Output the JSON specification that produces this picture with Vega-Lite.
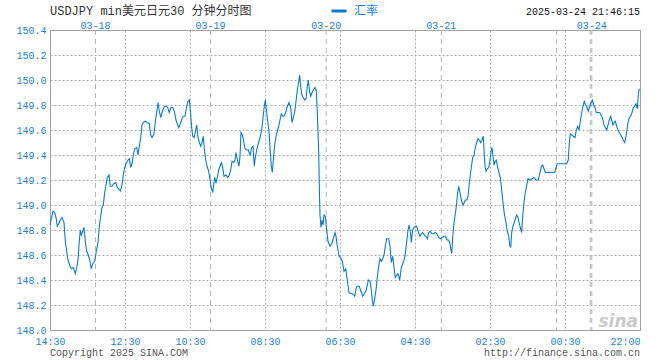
{
  "$schema": "https://vega.github.io/schema/vega-lite/v6.json",
  "width": 590,
  "height": 300,
  "autosize": {"type": "none"},
  "padding": {"left": 50, "top": 30, "right": 20, "bottom": 30},
  "background": "white",
  "config": {
    "view": {"stroke": "#999999", "strokeWidth": 1},
    "font": "Liberation Mono",
    "axis": {
      "title": null,
      "labelOverlap": false,
      "labelFlush": false,
      "labelColor": "#1a7fd4",
      "labelFont": "Liberation Mono",
      "labelFontSize": 10,
      "ticks": false,
      "tickSize": 0,
      "domain": false,
      "grid": true,
      "gridColor": "#aaaaaa",
      "gridDash": [2, 2],
      "gridWidth": 1
    },
    "axisX": {"labelPadding": 6},
    "axisY": {"labelPadding": 4}
  },
  "datasets": {
    "px": [
      {"t":0,"p":148.84},{"t":1.3,"p":148.89},{"t":3,"p":148.95},{"t":4.7,"p":148.94},{"t":6.3,"p":148.89},{"t":7.3,"p":148.83},{"t":8.7,"p":148.85},{"t":10.3,"p":148.88},{"t":12,"p":148.90},{"t":14,"p":148.86},
      {"t":15.3,"p":148.71},{"t":16.7,"p":148.63},{"t":18,"p":148.56},{"t":20,"p":148.51},{"t":21.3,"p":148.49},{"t":23.3,"p":148.50},{"t":25.3,"p":148.45},{"t":26.7,"p":148.50},{"t":28,"p":148.56},{"t":29.3,"p":148.71},
      {"t":30.3,"p":148.80},{"t":31.3,"p":148.76},{"t":32.7,"p":148.79},{"t":34,"p":148.82},{"t":35.3,"p":148.71},{"t":36.7,"p":148.63},{"t":38.3,"p":148.60},{"t":40,"p":148.55},{"t":41.3,"p":148.49},{"t":42.7,"p":148.53},
      {"t":44.7,"p":148.55},{"t":46.3,"p":148.63},{"t":48,"p":148.70},{"t":49.3,"p":148.83},{"t":50.7,"p":148.91},{"t":52,"p":148.98},{"t":53.3,"p":149.00},{"t":54.7,"p":149.10},{"t":56,"p":149.16},{"t":57.3,"p":149.22},
      {"t":59,"p":149.24},{"t":60.3,"p":149.15},{"t":62,"p":149.15},{"t":63.7,"p":149.17},{"t":65.7,"p":149.18},{"t":67.3,"p":149.14},{"t":68.7,"p":149.13},{"t":70.3,"p":149.11},{"t":72,"p":149.16},{"t":73.3,"p":149.24},
      {"t":74.7,"p":149.30},{"t":76,"p":149.33},{"t":78,"p":149.36},{"t":79.3,"p":149.37},{"t":80.7,"p":149.30},{"t":82,"p":149.33},{"t":83.3,"p":149.40},{"t":84.7,"p":149.45},{"t":86.7,"p":149.46},{"t":88,"p":149.40},
      {"t":89.3,"p":149.47},{"t":90.7,"p":149.54},{"t":92,"p":149.64},{"t":93.3,"p":149.66},{"t":95.3,"p":149.67},{"t":97.3,"p":149.66},{"t":99.3,"p":149.65},{"t":100.7,"p":149.56},{"t":102,"p":149.54},{"t":104,"p":149.57},
      {"t":105.3,"p":149.67},{"t":106.7,"p":149.74},{"t":108,"p":149.82},{"t":109.3,"p":149.75},{"t":110.7,"p":149.70},{"t":112,"p":149.74},{"t":113.3,"p":149.77},{"t":114.7,"p":149.79},{"t":116.3,"p":149.79},{"t":117.7,"p":149.78},
      {"t":119.3,"p":149.74},{"t":121,"p":149.78},{"t":122.7,"p":149.78},{"t":124.3,"p":149.75},{"t":126,"p":149.68},{"t":127.7,"p":149.64},{"t":128.7,"p":149.62},{"t":130.3,"p":149.65},{"t":132,"p":149.69},{"t":133.3,"p":149.71},
      {"t":135,"p":149.71},{"t":136.7,"p":149.79},{"t":138,"p":149.83},{"t":139.3,"p":149.84},{"t":140.3,"p":149.76},{"t":141.7,"p":149.62},{"t":142.7,"p":149.55},{"t":144.3,"p":149.54},{"t":145.7,"p":149.60},{"t":146.7,"p":149.64},
      {"t":148,"p":149.54},{"t":149.3,"p":149.50},{"t":150.7,"p":149.47},{"t":152,"p":149.50},{"t":153.3,"p":149.55},{"t":154.3,"p":149.45},{"t":155.7,"p":149.36},{"t":157,"p":149.31},{"t":158.7,"p":149.27},{"t":160,"p":149.20},
      {"t":161.3,"p":149.14},{"t":162.7,"p":149.10},{"t":163.7,"p":149.16},{"t":164.7,"p":149.22},{"t":166,"p":149.18},{"t":167.3,"p":149.22},{"t":168.7,"p":149.28},{"t":170,"p":149.31},{"t":171.3,"p":149.34},{"t":172.7,"p":149.30},
      {"t":174,"p":149.23},{"t":176,"p":149.24},{"t":177.7,"p":149.22},{"t":179.3,"p":149.24},{"t":180.7,"p":149.28},{"t":182,"p":149.35},{"t":183.7,"p":149.34},{"t":185,"p":149.36},{"t":186,"p":149.42},{"t":187.7,"p":149.35},
      {"t":189,"p":149.31},{"t":190,"p":149.39},{"t":191,"p":149.58},{"t":192.3,"p":149.56},{"t":193.7,"p":149.51},{"t":195,"p":149.45},{"t":196.7,"p":149.44},{"t":198.3,"p":149.44},{"t":200,"p":149.40},{"t":201.7,"p":149.46},
      {"t":203,"p":149.47},{"t":204.3,"p":149.31},{"t":205.3,"p":149.38},{"t":206.7,"p":149.44},{"t":208,"p":149.48},{"t":209.3,"p":149.52},{"t":210.7,"p":149.56},{"t":212,"p":149.62},{"t":213,"p":149.70},{"t":214.3,"p":149.79},
      {"t":215.3,"p":149.84},{"t":216.3,"p":149.77},{"t":217.7,"p":149.67},{"t":219,"p":149.59},{"t":220,"p":149.46},{"t":221.3,"p":149.31},{"t":222.3,"p":149.26},{"t":223.3,"p":149.36},{"t":224.7,"p":149.48},{"t":226,"p":149.55},
      {"t":227.3,"p":149.59},{"t":228.7,"p":149.63},{"t":230,"p":149.68},{"t":231.3,"p":149.73},{"t":232.7,"p":149.71},{"t":234,"p":149.71},{"t":235.7,"p":149.74},{"t":237.3,"p":149.79},{"t":239,"p":149.82},{"t":240.7,"p":149.78},
      {"t":242,"p":149.66},{"t":243.3,"p":149.70},{"t":245,"p":149.76},{"t":246.3,"p":149.85},{"t":247.3,"p":149.92},{"t":248.7,"p":149.99},{"t":249.7,"p":150.04},{"t":250.7,"p":149.94},{"t":252,"p":149.88},{"t":253.3,"p":149.86},
      {"t":254.7,"p":149.84},{"t":256,"p":149.85},{"t":257.3,"p":149.95},{"t":258.3,"p":150.00},{"t":259.7,"p":149.90},{"t":260.7,"p":149.87},{"t":262,"p":149.90},{"t":263.3,"p":149.92},{"t":265,"p":149.94},{"t":266.3,"p":149.91},
      {"t":267.3,"p":149.74},{"t":268.7,"p":149.43},{"t":269.3,"p":149.15},{"t":270,"p":148.92},{"t":271,"p":148.82},{"t":272,"p":148.88},{"t":273,"p":148.84},{"t":274,"p":148.92},{"t":275.3,"p":148.91},{"t":276.7,"p":148.80},
      {"t":278,"p":148.71},{"t":280,"p":148.67},{"t":281.7,"p":148.69},{"t":283.3,"p":148.73},{"t":285,"p":148.78},{"t":286,"p":148.75},{"t":287.3,"p":148.67},{"t":289,"p":148.59},{"t":290.7,"p":148.58},{"t":292.3,"p":148.55},
      {"t":294,"p":148.47},{"t":295.7,"p":148.49},{"t":297.3,"p":148.40},{"t":299,"p":148.30},{"t":300.7,"p":148.29},{"t":302.7,"p":148.29},{"t":304.7,"p":148.27},{"t":306.3,"p":148.34},{"t":307.3,"p":148.35},{"t":309.3,"p":148.35},
      {"t":311,"p":148.31},{"t":312.7,"p":148.27},{"t":314.3,"p":148.29},{"t":316.3,"p":148.32},{"t":318.3,"p":148.40},{"t":320,"p":148.39},{"t":321.3,"p":148.32},{"t":322.3,"p":148.24},{"t":323.3,"p":148.19},{"t":324.7,"p":148.25},
      {"t":326,"p":148.32},{"t":327.3,"p":148.42},{"t":328.7,"p":148.51},{"t":330,"p":148.57},{"t":331.3,"p":148.55},{"t":332.7,"p":148.57},{"t":334,"p":148.60},{"t":335.3,"p":148.67},{"t":336.7,"p":148.73},{"t":338.7,"p":148.73},
      {"t":340,"p":148.67},{"t":341.3,"p":148.54},{"t":342.7,"p":148.59},{"t":344,"p":148.50},{"t":345.3,"p":148.42},{"t":346.7,"p":148.44},{"t":348,"p":148.45},{"t":349.7,"p":148.40},{"t":351.3,"p":148.50},{"t":353.7,"p":148.55},
      {"t":355,"p":148.59},{"t":356.3,"p":148.68},{"t":357.7,"p":148.78},{"t":359,"p":148.84},{"t":360.3,"p":148.79},{"t":361.3,"p":148.70},{"t":362.7,"p":148.80},{"t":364,"p":148.82},{"t":365.3,"p":148.83},{"t":366.7,"p":148.83},
      {"t":368,"p":148.79},{"t":370,"p":148.75},{"t":371.3,"p":148.77},{"t":372.7,"p":148.78},{"t":374.3,"p":148.76},{"t":376,"p":148.75},{"t":377.3,"p":148.73},{"t":378.7,"p":148.78},{"t":380.3,"p":148.79},{"t":382,"p":148.77},
      {"t":383.7,"p":148.77},{"t":385.3,"p":148.78},{"t":387,"p":148.77},{"t":388.7,"p":148.74},{"t":390.3,"p":148.73},{"t":392,"p":148.74},{"t":393.7,"p":148.75},{"t":395.3,"p":148.75},{"t":397,"p":148.72},{"t":398.7,"p":148.72},
      {"t":399.7,"p":148.70},{"t":400.7,"p":148.65},{"t":401.7,"p":148.61},{"t":402.7,"p":148.74},{"t":403.7,"p":148.83},{"t":404.7,"p":148.90},{"t":405.7,"p":148.95},{"t":406.7,"p":149.02},{"t":407.7,"p":149.10},{"t":408.7,"p":149.15},
      {"t":410,"p":149.10},{"t":411.3,"p":149.04},{"t":413,"p":149.00},{"t":414.3,"p":149.02},{"t":415.3,"p":149.04},{"t":417,"p":149.04},{"t":418,"p":149.07},{"t":419,"p":149.15},{"t":420,"p":149.22},{"t":421.3,"p":149.30},
      {"t":422.7,"p":149.38},{"t":424,"p":149.40},{"t":425.3,"p":149.46},{"t":426.7,"p":149.50},{"t":428,"p":149.53},{"t":429.3,"p":149.52},{"t":430.7,"p":149.50},{"t":432,"p":149.52},{"t":433.3,"p":149.55},{"t":434,"p":149.44},
      {"t":435,"p":149.31},{"t":436,"p":149.27},{"t":437.3,"p":149.29},{"t":438.7,"p":149.30},{"t":440,"p":149.36},{"t":441,"p":149.43},{"t":442,"p":149.46},{"t":443,"p":149.39},{"t":444,"p":149.32},{"t":445.3,"p":149.35},
      {"t":446.3,"p":149.36},{"t":447.7,"p":149.30},{"t":449,"p":149.26},{"t":450.3,"p":149.22},{"t":451.3,"p":149.15},{"t":452.7,"p":149.04},{"t":453.7,"p":148.97},{"t":454.7,"p":148.91},{"t":456,"p":148.86},{"t":457.3,"p":148.79},
      {"t":458.7,"p":148.75},{"t":459.7,"p":148.68},{"t":460.7,"p":148.66},{"t":461.7,"p":148.78},{"t":463,"p":148.83},{"t":464.3,"p":148.86},{"t":465.7,"p":148.90},{"t":466.7,"p":148.92},{"t":468,"p":148.90},{"t":469,"p":148.86},
      {"t":470,"p":148.83},{"t":471.7,"p":148.78},{"t":472.7,"p":148.91},{"t":474,"p":149.02},{"t":475.3,"p":149.10},{"t":476.7,"p":149.16},{"t":478,"p":149.21},{"t":480,"p":149.20},{"t":482,"p":149.21},{"t":484,"p":149.22},
      {"t":486,"p":149.20},{"t":488.3,"p":149.20},{"t":490,"p":149.26},{"t":491.3,"p":149.31},{"t":492.7,"p":149.32},{"t":494,"p":149.29},{"t":495.3,"p":149.26},{"t":497.3,"p":149.26},{"t":500,"p":149.26},{"t":502.7,"p":149.26},
      {"t":504.7,"p":149.26},{"t":506,"p":149.30},{"t":507.3,"p":149.33},{"t":510,"p":149.33},{"t":512.7,"p":149.33},{"t":515,"p":149.33},{"t":516.7,"p":149.33},{"t":518.3,"p":149.36},{"t":519.3,"p":149.50},{"t":520.3,"p":149.57},
      {"t":521.7,"p":149.56},{"t":523.3,"p":149.55},{"t":525,"p":149.54},{"t":526.3,"p":149.60},{"t":527.7,"p":149.63},{"t":529,"p":149.60},{"t":530.3,"p":149.67},{"t":531.7,"p":149.74},{"t":533,"p":149.79},{"t":534.3,"p":149.83},
      {"t":535.7,"p":149.80},{"t":537,"p":149.78},{"t":538.3,"p":149.75},{"t":539.7,"p":149.79},{"t":541,"p":149.82},{"t":542.3,"p":149.84},{"t":543.7,"p":149.80},{"t":545,"p":149.78},{"t":546.3,"p":149.74},{"t":548,"p":149.74},
      {"t":549.7,"p":149.74},{"t":551,"p":149.72},{"t":552.7,"p":149.69},{"t":554,"p":149.64},{"t":555.3,"p":149.62},{"t":556.7,"p":149.60},{"t":558,"p":149.64},{"t":559.3,"p":149.68},{"t":560.7,"p":149.71},{"t":562,"p":149.67},
      {"t":563,"p":149.64},{"t":564,"p":149.66},{"t":565.3,"p":149.67},{"t":566.7,"p":149.63},{"t":568,"p":149.60},{"t":569.3,"p":149.58},{"t":570.7,"p":149.56},{"t":572,"p":149.54},{"t":573.3,"p":149.52},{"t":574.7,"p":149.50},
      {"t":576,"p":149.55},{"t":577,"p":149.60},{"t":578,"p":149.66},{"t":579.3,"p":149.70},{"t":580.7,"p":149.71},{"t":582,"p":149.74},{"t":583.3,"p":149.78},{"t":584.7,"p":149.79},{"t":586,"p":149.81},{"t":587.3,"p":149.77},
      {"t":588.3,"p":149.88},{"t":589.3,"p":149.93}
    ],
    "dates": [
      {"t":45.5,"p":150.4,"d":"03-18"},{"t":160.5,"p":150.4,"d":"03-19"},{"t":276.2,"p":150.4,"d":"03-20"},{"t":391.3,"p":150.4,"d":"03-21"},{"t":506.5,"p":150.4,"d":""},{"t":540.3,"p":150.4,"d":""},{"t":541.8,"p":150.4,"d":"03-24"}
    ],
    "notes": [
      {"t":0,"p":150.4,"s":"USDJPY min美元日元30  分钟分时图","k":"title"},
      {"t":590,"p":150.4,"s":"2025-03-24 21:46:15","k":"time"},
      {"t":0,"p":148.0,"s":"Copyright 2025 SINA.COM","k":"copy"},
      {"t":590,"p":148.0,"s":"http://finance.sina.com.cn","k":"url"},
      {"t":590,"p":148.0,"s":"sina","k":"logo"}
    ]
  },
  "encoding": {
    "x": {
      "field": "t", "type": "quantitative",
      "scale": {"domain": [0, 590], "nice": false, "zero": false},
      "axis": {
        "values": [0, 75, 140, 215, 290, 365, 440, 515, 590],
        "labelExpr": "['14:30','12:30','10:30','08:30','06:30','04:30','02:30','00:30','22:00'][indexof([0,75,140,215,290,365,440,515,590], datum.value)]",
        "labelAlign": {"condition": {"test": "datum.value == 590", "value": "right"}, "value": "center"}
      }
    },
    "y": {
      "field": "p", "type": "quantitative",
      "scale": {"domain": [148.0, 150.4], "nice": false, "zero": false},
      "axis": {
        "values": [148.0, 148.2, 148.4, 148.6, 148.8, 149.0, 149.2, 149.4, 149.6, 149.8, 150.0, 150.2, 150.4],
        "format": ".1f"
      }
    }
  },
  "layer": [
    {
      "data": {"name": "dates"},
      "mark": {"type": "rule", "color": "#b4b4b4", "strokeDash": [5, 4], "strokeWidth": 1},
      "encoding": {"y": null}
    },
    {
      "data": {"name": "dates"},
      "mark": {"type": "text", "color": "#1a7fd4", "fontSize": 10, "font": "Liberation Mono", "align": "center", "baseline": "alphabetic", "dy": -1.5},
      "encoding": {"text": {"field": "d"}}
    },
    {
      "data": {"name": "px"},
      "transform": [{"calculate": "'汇率'", "as": "series"}],
      "mark": {"type": "line", "strokeWidth": 1.1, "interpolate": "linear"},
      "encoding": {
        "color": {
          "field": "series", "type": "nominal",
          "scale": {"domain": ["汇率"], "range": ["#0a7bd0"]},
          "legend": {
            "title": null,
            "orient": "none",
            "legendX": 280,
            "legendY": -28,
            "padding": 0,
            "symbolType": "stroke",
            "symbolSize": 225,
            "symbolStrokeWidth": 3,
            "labelFont": "Noto Sans CJK SC",
            "labelFontSize": 12,
            "labelColor": "#1a7fd4",
            "labelOffset": 6,
            "labelBaseline": "middle"
          }
        }
      }
    },
    {
      "data": {"name": "notes"},
      "transform": [{"filter": "datum.k == 'title'"}],
      "mark": {"type": "text", "align": "left", "baseline": "alphabetic", "dy": -15, "fontSize": 12, "font": "Liberation Mono, Noto Sans CJK SC", "color": "#333333"},
      "encoding": {"text": {"field": "s"}}
    },
    {
      "data": {"name": "notes"},
      "transform": [{"filter": "datum.k == 'time'"}],
      "mark": {"type": "text", "align": "right", "baseline": "alphabetic", "dy": -15, "fontSize": 10, "font": "Liberation Mono", "color": "#111111"},
      "encoding": {"text": {"field": "s"}}
    },
    {
      "data": {"name": "notes"},
      "transform": [{"filter": "datum.k == 'copy'"}],
      "mark": {"type": "text", "align": "left", "baseline": "alphabetic", "dy": 26, "fontSize": 10, "font": "Liberation Mono", "color": "#555555"},
      "encoding": {"text": {"field": "s"}}
    },
    {
      "data": {"name": "notes"},
      "transform": [{"filter": "datum.k == 'url'"}],
      "mark": {"type": "text", "align": "right", "baseline": "alphabetic", "dy": 26, "fontSize": 10, "font": "Liberation Mono", "color": "#555555"},
      "encoding": {"text": {"field": "s"}}
    },
    {
      "data": {"name": "notes"},
      "transform": [{"filter": "datum.k == 'logo'"}],
      "mark": {"type": "text", "align": "right", "baseline": "alphabetic", "dy": -3, "dx": -2, "fontSize": 17, "fontWeight": "bold", "fontStyle": "italic", "font": "DejaVu Sans", "color": "#c9c9c9"},
      "encoding": {"text": {"field": "s"}}
    }
  ]
}
